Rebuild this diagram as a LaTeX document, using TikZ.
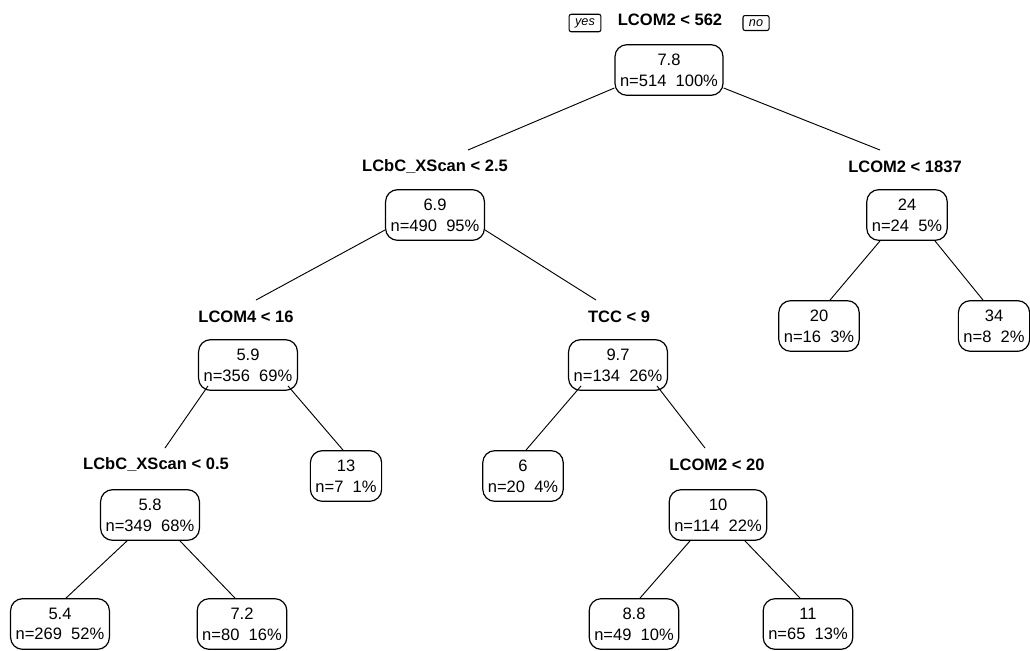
\documentclass[tikz,border=0pt]{standalone}
\usepackage{fontspec}
\setmainfont{Liberation Sans}
\usetikzlibrary{calc}
\tikzset{
  tnode/.style={draw, line width=0.9pt, rounded corners=9pt, align=center, inner xsep=3.8pt, inner ysep=1pt, minimum height=38pt, font=\fontsize{12.4}{15.5}\selectfont},
  split/.style={inner sep=0pt, font=\fontsize{12.4}{14}\selectfont\bfseries},
  yn/.style={draw, line width=0.8pt, rounded corners=1.5pt, inner xsep=4.5pt, inner ysep=3pt, font=\fontsize{9.5}{11}\selectfont\itshape},
  edge/.style={line width=0.7pt}
}
\begin{document}
\begin{tikzpicture}[x=0.75pt,y=-0.75pt]
\useasboundingbox (0,0) rectangle (1030,650);
% split labels
\node[split] (lroot) at (670,20) {LCOM2 < 562};
\node[yn] (yes) at (585,23) {yes};
\node[yn] (no) at (756,23) {no};
\node[split] (l69) at (435,167) {LCbC\_XScan < 2.5};
\node[split] (l24) at (905,167) {LCOM2 < 1837};
\node[split] (l59) at (246,317) {LCOM4 < 16};
\node[split] (l97) at (619,317) {TCC < 9};
\node[split] (l58) at (156,465) {LCbC\_XScan < 0.5};
\node[split] (l10) at (717,465) {LCOM2 < 20};
% tree nodes
\node[tnode] (root) at (669,70) {7.8\\n=514\ \ 100\%};
\node[tnode] (n69) at (435,215) {6.9\\n=490\ \ 95\%};
\node[tnode] (n24) at (907,215) {24\\n=24\ \ 5\%};
\node[tnode] (n20) at (819,326) {20\\n=16\ \ 3\%};
\node[tnode] (n34) at (994,326) {34\\n=8\ \ 2\%};
\node[tnode] (n59) at (248,365) {5.9\\n=356\ \ 69\%};
\node[tnode] (n97) at (618,365) {9.7\\n=134\ \ 26\%};
\node[tnode] (n13) at (346,476) {13\\n=7\ \ 1\%};
\node[tnode] (n6) at (523,476) {6\\n=20\ \ 4\%};
\node[tnode] (n58) at (150,515) {5.8\\n=349\ \ 68\%};
\node[tnode] (n10) at (718,515) {10\\n=114\ \ 22\%};
\node[tnode] (n54) at (60,624) {5.4\\n=269\ \ 52\%};
\node[tnode] (n72) at (242,624) {7.2\\n=80\ \ 16\%};
\node[tnode] (n88) at (634,624) {8.8\\n=49\ \ 10\%};
\node[tnode] (n11) at (808,624) {11\\n=65\ \ 13\%};
% edges
\draw[edge] ($(root.west)+(0,18)$) -- ($(l69.center)+(33,-17)$);
\draw[edge] ($(root.east)+(0,18)$) -- ($(l24.center)+(-25,-17)$);
\draw[edge] ($(n69.west)+(0,15)$) -- ($(l59.center)+(10,-17)$);
\draw[edge] ($(n69.east)+(0,15)$) -- ($(l97.center)+(-23,-17)$);
\draw[edge] ($(n24.south)+(-27,0)$) -- ($(n20.north)+(11,0)$);
\draw[edge] ($(n24.south)+(28,0)$) -- ($(n34.north)+(-11,0)$);
\draw[edge] ($(n59.south)+(-40,-5)$) -- ($(l58.center)+(9,-17)$);
\draw[edge] ($(n59.south)+(40,-5)$) -- ($(n13.north)+(-3,0)$);
\draw[edge] ($(n97.south)+(-37,-5)$) -- ($(n6.north)+(3,0)$);
\draw[edge] ($(n97.south)+(39,-5)$) -- ($(l10.center)+(-12,-17)$);
\draw[edge] ($(n58.south)+(-23,0)$) -- ($(n54.north)+(6,0)$);
\draw[edge] ($(n58.south)+(30,0)$) -- ($(n72.north)+(-7,0)$);
\draw[edge] ($(n10.south)+(-28,0)$) -- ($(n88.north)+(6,0)$);
\draw[edge] ($(n10.south)+(27,0)$) -- ($(n11.north)+(-8,0)$);
\end{tikzpicture}
\end{document}
